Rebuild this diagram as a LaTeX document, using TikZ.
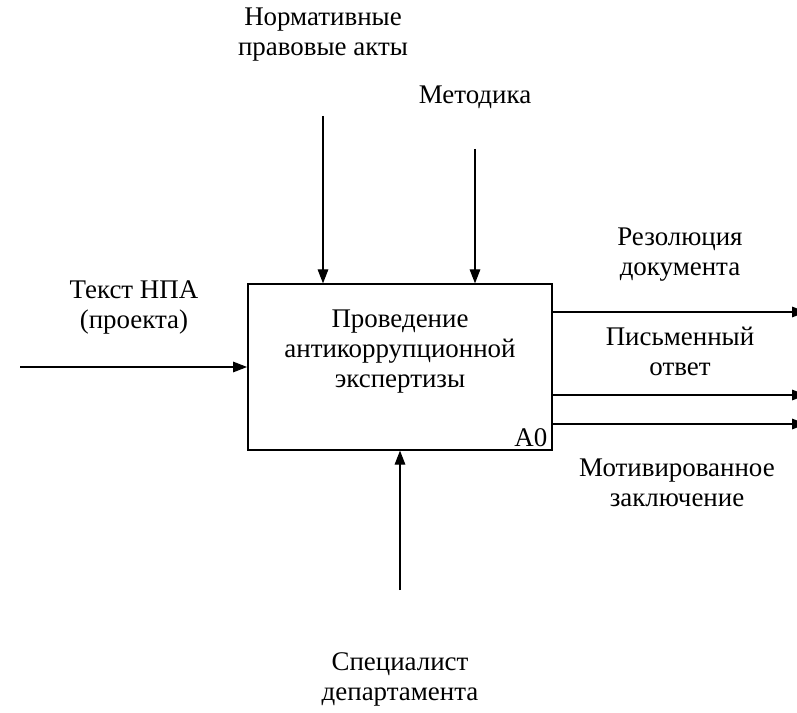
\documentclass[tikz,border=0pt]{standalone}
\usepackage{fontspec}
\setmainfont{Liberation Serif}
\usetikzlibrary{arrows.meta,positioning}
\tikzset{
  lbl/.style={align=center,inner sep=0pt,font=\fontsize{20.2pt}{22.5pt}\selectfont},
  func/.style={draw,line width=1.5pt,minimum width=228pt,minimum height=124pt,inner sep=0pt},
  arr/.style={-{Triangle[length=10.5pt,width=8pt]},line width=0.8pt}
}
\begin{document}
\begin{tikzpicture}[x=0.75pt,y=-0.75pt]
            \useasboundingbox (0,0) rectangle (797,713);
            \node[func] (a0) at (400,367) {};
            \node[lbl] (a0txt) at (400,352) {Проведение\\антикоррупционной\\экспертизы};
            \node[lbl,anchor=south east] (a0num) at ([xshift=-4pt,yshift=3pt]a0.south east) {A0};
            % входы, управление, механизм
            \coordinate (inp) at (20,367);
            \coordinate (ctl1) at (323,116);
            \coordinate (ctl2) at (475,149);
            \coordinate (mech) at (400,590);
            \node[lbl] (inptxt) at (134,307) {Текст НПА\\(проекта)};
            \node[lbl] (ctl1txt) at (323,35) {Нормативные\\правовые акты};
            \node[lbl] (ctl2txt) at (475,97) {Методика};
            \node[lbl] (mechtxt) at (400,679) {Специалист\\департамента};
            \draw[arr](inp)--(a0.west |- inp);
            \draw[arr](ctl1)--(a0.north -| ctl1);
            \draw[arr](ctl2)--(a0.north -| ctl2);
            \draw[arr](mech)--(a0.south -| mech);
            % выходы
            \coordinate (out1) at (806,312);
            \coordinate (out2) at (806,395);
            \coordinate (out3) at (806,424);
            \node[lbl] (out1txt) at (680,255) {Резолюция\\документа};
            \node[lbl] (out2txt) at (680,351) {Письменный\\ответ};
            \node[lbl] (out3txt) at (677,483) {Мотивированное\\заключение};
            \draw[arr](a0.east |- out1)--(out1);
            \draw[arr](a0.east |- out2)--(out2);
            \draw[arr](a0.east |- out3)--(out3);
        \end{tikzpicture}
\end{document}
